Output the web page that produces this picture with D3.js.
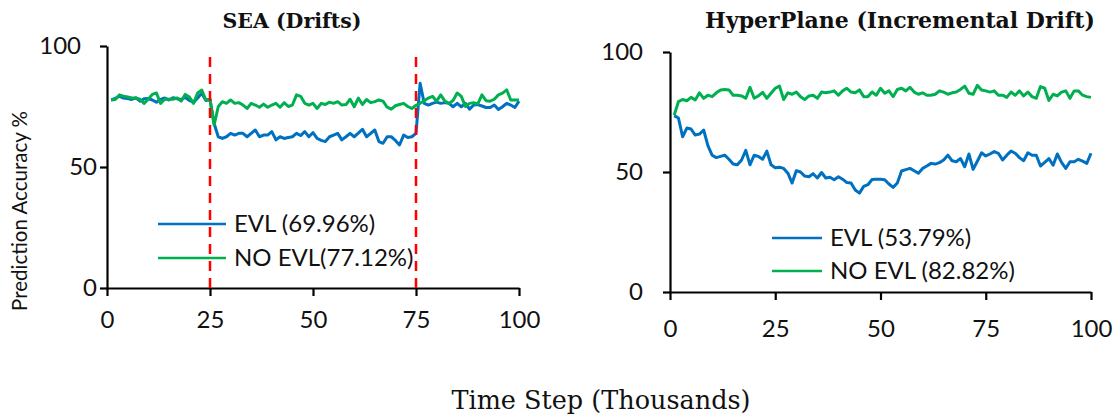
<!DOCTYPE html>
<html>
<head>
<meta charset="utf-8">
<script src="https://cdn.jsdelivr.net/npm/d3@7"></script>
<style>
  body { margin: 0; background: #fff; }
  svg { display: block; }
</style>
</head>
<body>
<div id="chart"></div>
<script>
// tick values
var xTicks = [0, 25, 50, 75, 100];
var yTicks = [0, 50, 100];
var driftSteps = [25, 75];

// SEA (Drifts) - accuracy per time step 1..100
var seaEvl = [77.7, 78.3, 79.3, 78.5, 78.3, 77.9, 78.6, 77.2, 78.2, 78.3,
  77.7, 76.8, 77.9, 78.5, 77.7, 78.6, 78.2, 77.9, 78.8, 77.5,
  76.7, 78.5, 80.5, 77.5, 77.9, 68.0, 62.5, 61.8, 62.5, 63.9,
  63.2, 63.9, 63.9, 62.5, 63.9, 65.3, 62.5, 63.2, 63.2, 64.6,
  61.2, 62.5, 61.8, 62.2, 62.5, 63.9, 63.0, 64.6, 62.5, 64.2,
  61.8, 61.0, 60.5, 62.5, 63.2, 63.9, 61.2, 62.5, 63.9, 62.5,
  64.0, 65.6, 62.5, 63.9, 65.3, 60.5, 59.8, 62.5, 62.5, 61.0,
  59.1, 63.2, 62.2, 62.5, 63.9, 84.6, 76.3, 75.6, 76.3, 76.8,
  76.3, 76.6, 76.3, 74.9, 76.3, 74.9, 76.3, 73.9, 75.6, 75.8,
  75.2, 74.6, 74.6, 75.6, 73.8, 74.9, 76.3, 75.6, 74.6, 77.2];
var seaNoEvl = [77.7, 77.9, 79.8, 79.3, 78.9, 78.5, 78.5, 78.0, 76.3, 78.0,
  80.0, 80.6, 76.3, 78.0, 78.0, 78.0, 78.5, 77.2, 80.0, 78.9,
  76.3, 80.6, 81.8, 77.7, 78.0, 67.4, 74.9, 77.0, 76.3, 77.7,
  76.3, 76.6, 75.6, 74.2, 76.3, 75.6, 74.7, 76.0, 74.7, 75.6,
  76.3, 74.7, 76.6, 75.0, 75.6, 79.8, 79.2, 76.3, 75.6, 76.3,
  74.2, 76.3, 75.8, 76.8, 76.3, 77.0, 75.6, 75.8, 78.0, 74.9,
  78.5, 75.8, 77.9, 76.6, 77.0, 77.7, 77.2, 74.7, 73.9, 75.3,
  75.8, 76.3, 75.0, 74.2, 75.5, 76.3, 77.4, 78.5, 79.2, 77.2,
  79.8, 77.2, 76.3, 77.5, 80.6, 79.2, 75.0, 76.3, 76.6, 76.1,
  79.8, 77.4, 77.2, 78.0, 79.8, 80.5, 81.9, 77.7, 77.7, 77.7];

// HyperPlane (Incremental Drift)
var hypEvl = [73.5, 72.5, 64.7, 68.3, 67.9, 65.4, 65.8, 67.5, 61.0, 57.0,
  56.0, 56.5, 57.0, 55.3, 53.3, 53.0, 55.0, 59.0, 53.0, 57.0,
  56.5, 55.3, 58.7, 53.0, 51.8, 52.0, 51.5, 49.5, 45.4, 50.5,
  50.0, 48.3, 48.0, 49.3, 47.5, 49.8, 47.5, 47.8, 46.8, 48.0,
  47.0, 45.6, 45.4, 42.5, 41.2, 44.0, 44.7, 46.9, 47.0, 47.0,
  46.8, 45.0, 43.6, 45.4, 50.4, 51.0, 51.5, 50.5, 49.5, 51.5,
  52.5, 53.6, 53.3, 53.9, 55.0, 57.0, 54.7, 54.3, 55.6, 52.2,
  57.5, 51.1, 54.5, 58.0, 56.7, 57.5, 58.5, 57.8, 55.0, 57.0,
  58.7, 57.8, 56.0, 54.7, 58.0, 57.0, 57.0, 52.5, 54.0, 55.6,
  52.8, 57.5, 54.0, 51.5, 54.3, 54.3, 55.3, 54.5, 53.6, 57.8];
var hypNoEvl = [73.7, 79.3, 80.2, 79.7, 81.1, 80.0, 83.0, 80.7, 82.0, 81.4,
  83.0, 84.2, 84.4, 84.2, 82.0, 82.0, 81.7, 80.7, 85.3, 80.7,
  81.7, 83.2, 80.7, 82.8, 84.9, 85.8, 80.2, 83.0, 82.4, 83.3,
  81.4, 80.2, 81.7, 82.0, 80.7, 83.3, 83.0, 83.3, 83.8, 82.0,
  83.8, 84.9, 83.3, 83.0, 84.2, 81.4, 81.4, 83.3, 82.0, 84.9,
  82.8, 83.8, 81.4, 84.4, 84.9, 83.8, 85.3, 83.3, 82.4, 83.0,
  82.0, 82.0, 82.4, 83.8, 83.3, 82.4, 83.0, 83.3, 84.4, 85.8,
  82.8, 82.4, 86.1, 84.2, 83.8, 83.3, 83.8, 82.0, 82.0, 81.1,
  83.3, 82.0, 83.8, 81.7, 83.3, 81.4, 80.7, 85.6, 84.9, 79.8,
  82.4, 81.7, 83.3, 83.8, 80.7, 83.8, 83.8, 82.0, 81.4, 81.1];

var seaLegend = ["EVL (69.96%)", "NO EVL(77.12%)"];
var hypLegend = ["EVL (53.79%)", "NO EVL (82.82%)"];
var seriesColors = ["#0070C0", "#00B050"];

var W = 1119, H = 420;
var sansFont = "Lato, 'Open Sans', sans-serif";
var serifFont = "'DejaVu Serif', serif";

var svg = d3.select("#chart").append("svg")
  .attr("width", W)
  .attr("height", H);

function drawPanel(p) {
  var x = d3.scaleLinear().domain([0, 100]).range([p.x0, p.x1]);
  var y = d3.scaleLinear().domain([0, 100]).range([p.y0, p.y1]);
  var g = svg.append("g");

  var xAxis = g.append("g")
    .attr("transform", "translate(0," + p.y0 + ")")
    .call(d3.axisBottom(x).tickValues(xTicks).tickSize(8).tickPadding(p.xPad).tickSizeOuter(0));
  var yAxis = g.append("g")
    .attr("transform", "translate(" + p.x0 + ",0)")
    .call(d3.axisLeft(y).tickValues(yTicks).tickSize(7).tickPadding(p.yPad).tickSizeOuter(0));

  [xAxis, yAxis].forEach(function(a) {
    a.select(".domain").attr("stroke", "#000").attr("stroke-width", 2.2);
    a.selectAll(".tick line").attr("stroke", "#000").attr("stroke-width", 2.2);
    a.selectAll(".tick text")
      .attr("fill", "#111")
      .style("font-family", sansFont)
      .style("font-size", "24px");
  });
  if (p.topLabelDx) {
    yAxis.selectAll(".tick text").filter(function(d) { return d === 100; })
      .attr("dx", p.topLabelDx);
  }

  var line = d3.line()
    .x(function(d, i) { return x(i + 1); })
    .y(function(d) { return y(d); });

  [p.evl, p.noEvl].forEach(function(s, k) {
    g.append("path")
      .datum(s)
      .attr("fill", "none")
      .attr("stroke", seriesColors[k])
      .attr("stroke-width", 3)
      .attr("stroke-linejoin", "round")
      .attr("d", line);
  });

  // legend
  p.legend.forEach(function(t, k) {
    var ly = p.legY + k * p.legGap;
    g.append("line")
      .attr("x1", p.legX).attr("x2", p.legX + p.legLen)
      .attr("y1", ly).attr("y2", ly)
      .attr("stroke", seriesColors[k])
      .attr("stroke-width", 2.5);
    g.append("text")
      .attr("x", p.legX + p.legLen + 8)
      .attr("y", ly)
      .attr("dy", "0.35em")
      .style("font-family", sansFont)
      .style("font-size", "24px")
      .attr("fill", "#111")
      .text(t);
  });

  // drift markers
  if (p.drifts) {
    g.selectAll("line.drift")
      .data(p.drifts)
      .enter().append("line")
        .attr("class", "drift")
        .attr("x1", function(d) { return x(d); })
        .attr("x2", function(d) { return x(d); })
        .attr("y1", y(0))
        .attr("y2", y(96))
        .attr("stroke", "#FF0000")
        .attr("stroke-width", 2.5)
        .attr("stroke-dasharray", "10,7");
  }

  g.append("text")
    .attr("x", p.titleX)
    .attr("y", 28)
    .attr("text-anchor", "middle")
    .style("font-family", serifFont)
    .style("font-weight", "bold")
    .style("font-size", p.titleSize + "px")
    .attr("fill", "#111")
    .text(p.title);
}

drawPanel({
  x0: 107, x1: 519, y0: 288, y1: 46,
  xPad: 15, yPad: 3, topLabelDx: "-16",
  evl: seaEvl, noEvl: seaNoEvl,
  legend: seaLegend, legX: 158, legLen: 68, legY: 224, legGap: 34,
  drifts: driftSteps,
  title: "SEA (Drifts)", titleX: 292, titleSize: 20.5
});

drawPanel({
  x0: 670, x1: 1091, y0: 292, y1: 52,
  xPad: 20, yPad: 20,
  evl: hypEvl, noEvl: hypNoEvl,
  legend: hypLegend, legX: 772, legLen: 50, legY: 238, legGap: 33,
  title: "HyperPlane (Incremental Drift)", titleX: 900, titleSize: 22
});

// shared axis titles
svg.append("text")
  .attr("transform", "translate(20,211) rotate(-90)")
  .attr("text-anchor", "middle")
  .attr("dy", "0.35em")
  .style("font-family", sansFont)
  .style("font-size", "20.5px")
  .attr("fill", "#111")
  .text("Prediction Accuracy %");

svg.append("text")
  .attr("x", 601)
  .attr("y", 409)
  .attr("text-anchor", "middle")
  .style("font-family", serifFont)
  .style("font-size", "25.5px")
  .attr("fill", "#111")
  .text("Time Step (Thousands)");
</script>
</body>
</html>
